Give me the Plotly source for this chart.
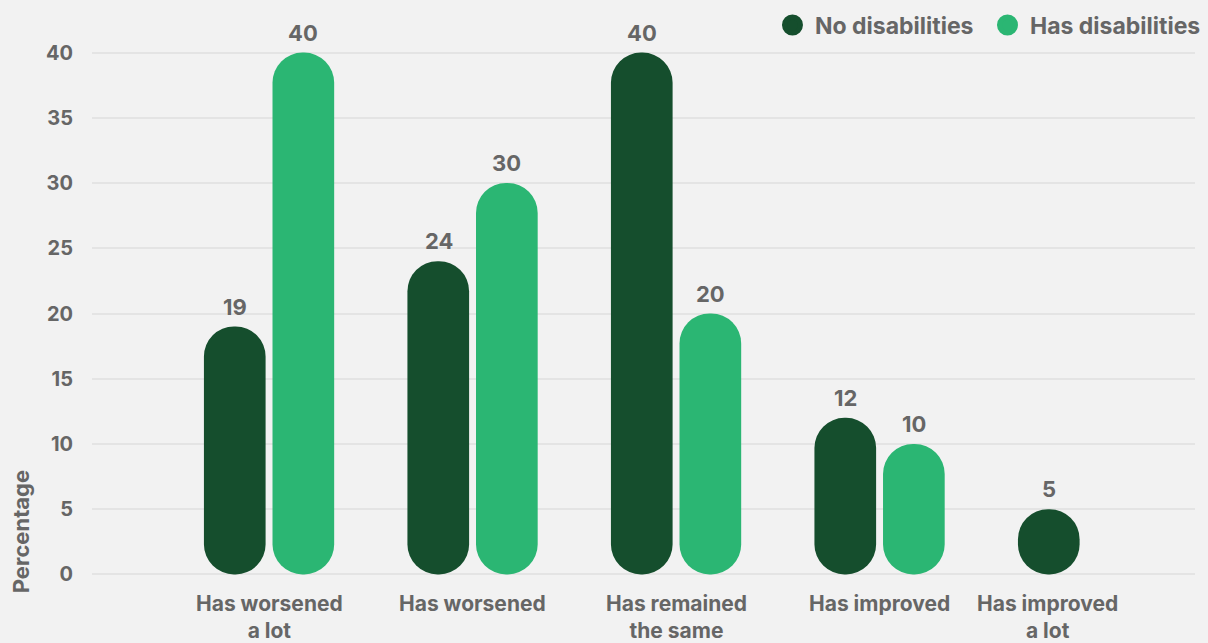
import plotly.graph_objects as go

# data
categories = ["Has worsened a lot", "Has worsened", "Has remained the same",
              "Has improved", "Has improved a lot"]
cat_labels = ["Has worsened<br>a lot", "Has worsened", "Has remained<br>the same",
              "Has improved", "Has improved<br>a lot"]
no_disab = [19, 24, 40, 12, 5]
has_disab = [40, 30, 20, 10, None]

DARK = "#154e2d"
LIGHT = "#2bb673"
GREY = "#666666"
BG = "#f2f2f2"
FONT = "Inter"
BAR_W = 0.303

fig = go.Figure()


def add_pill(name, values, color, offset, label_shift):
    # an explicit base makes plotly round both ends -> pill shaped bars
    fig.add_trace(go.Bar(
        x=categories, y=values, base=[0] * len(values), name=name,
        width=BAR_W, offset=offset,
        marker=dict(color=color, line=dict(width=0)),
        showlegend=False, hoverinfo="skip",
    ))
    # value labels above each pill
    for cat, val in zip(categories, values):
        if val is None:
            continue
        fig.add_annotation(
            x=cat, y=val, yanchor="bottom", showarrow=False,
            text=str(val), xshift=label_shift, yshift=5,
            font=dict(family=FONT, size=22, color=GREY, weight="bold"),
        )
    # legend entry with a round marker
    fig.add_trace(go.Scatter(
        x=[None], y=[None], mode="markers", name=name,
        marker=dict(color=color, size=16, line=dict(color=color, width=5)),
    ))


add_pill("No disabilities", no_disab, DARK, -0.32, -34)
add_pill("Has disabilities", has_disab, LIGHT, 0.017, 34)

# category labels under the axis
for i, (cat, lab) in enumerate(zip(categories, cat_labels)):
    fig.add_annotation(
        x=cat, y=0, xref="x", yref="paper", yanchor="top",
        text=lab, showarrow=False, yshift=-12,
        xshift=-36 if i == len(categories) - 1 else 0,
        font=dict(family=FONT, size=21, color=GREY, weight="bold"),
    )

fig.add_annotation(
    x=0, y=0.085, xref="paper", yref="paper", xshift=-71,
    xanchor="center", yanchor="middle",
    text="Percentage", textangle=-90, showarrow=False,
    font=dict(family=FONT, size=22, color=GREY, weight="bold"),
)

fig.update_layout(
    width=1208, height=643,
    paper_bgcolor=BG, plot_bgcolor=BG,
    barmode="overlay",
    barcornerradius="50%",
    margin=dict(l=92, r=13, t=50, b=66, autoexpand=False),
    font=dict(family=FONT, color=GREY),
    xaxis=dict(range=[-0.87, 4.55], showticklabels=False, showgrid=False,
               zeroline=False, fixedrange=True),
    yaxis=dict(range=[-0.2, 40.2], dtick=5, showgrid=True, gridcolor="#e4e4e4",
               gridwidth=2, zeroline=True, zerolinecolor="#e4e4e4", zerolinewidth=2,
               ticks="", ticklabelstandoff=18, fixedrange=True,
               tickfont=dict(family=FONT, size=20, color=GREY, weight="bold")),
    legend=dict(orientation="h", xref="container", x=0.6374, xanchor="left",
                yref="container", y=0.961, yanchor="middle",
                itemwidth=35, entrywidth=165,
                font=dict(family=FONT, size=23, color=GREY, weight="bold"),
                bgcolor="rgba(0,0,0,0)"),
    showlegend=True,
)

# drop the default page margin so the figure sits flush in the window
fig.write_html("out.html", config={"displayModeBar": False},
               post_script="document.body.style.margin='0';")
